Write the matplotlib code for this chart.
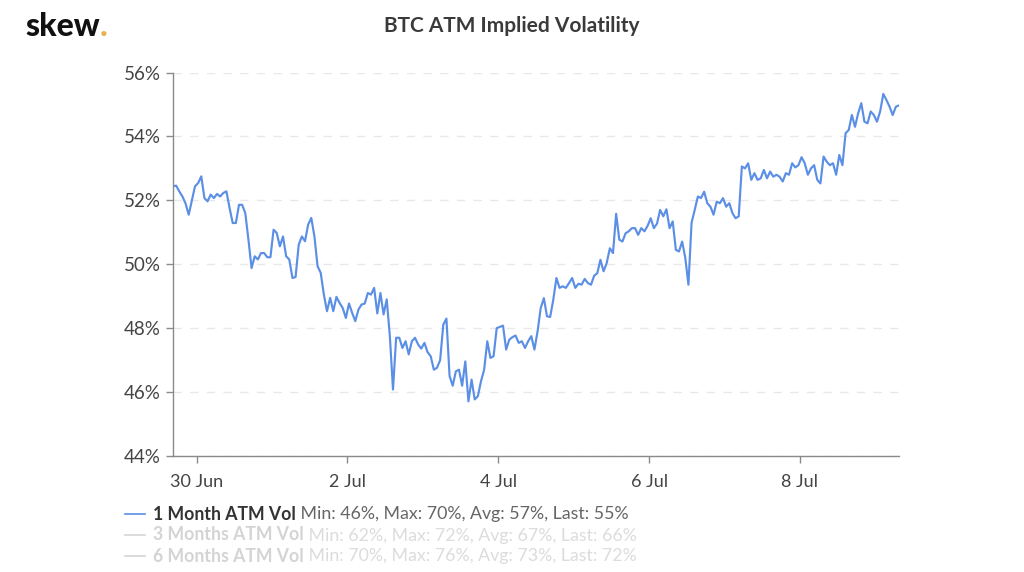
import matplotlib
matplotlib.use("Agg")
import matplotlib.pyplot as plt
from matplotlib.lines import Line2D
import pandas as pd

plt.rcParams['font.family'] = ['Lato', 'DejaVu Sans']

vol_1m = [
52.44,52.46,52.28,52.12,51.9,51.55,52.0,52.44,52.54,52.75,52.07,51.97,52.18,52.07,52.2,52.12,52.23,52.28,51.76,51.29,
51.29,51.86,51.86,51.6,50.77,49.88,50.25,50.15,50.35,50.35,50.22,50.22,51.08,50.98,50.56,50.87,50.25,50.15,49.57,49.6,
50.61,50.87,50.72,51.24,51.45,50.87,49.94,49.73,49.05,48.53,48.95,48.53,48.98,48.79,48.63,48.32,48.77,48.48,48.22,48.58,
48.74,48.77,49.1,49.05,49.26,48.46,49.1,48.43,48.9,47.75,46.08,47.7,47.7,47.38,47.59,47.18,47.59,47.7,47.49,47.36,
47.54,47.25,47.12,46.7,46.76,47.0,48.11,48.3,46.5,46.2,46.65,46.7,46.2,46.96,45.71,46.39,45.77,45.87,46.34,46.7,
47.59,47.07,47.12,48.0,48.04,48.08,47.33,47.64,47.72,47.77,47.54,47.59,47.38,47.59,47.75,47.33,47.9,48.63,48.94,48.37,
48.35,48.89,49.57,49.26,49.31,49.26,49.41,49.57,49.26,49.39,49.36,49.54,49.41,49.36,49.64,49.72,50.14,49.78,50.04,50.5,
50.35,51.58,50.77,50.71,50.97,51.03,51.13,51.13,50.92,51.13,51.03,51.2,51.44,51.13,51.27,51.7,51.5,51.72,51.13,51.34,
50.45,50.4,50.71,50.2,49.36,51.3,51.7,52.12,52.07,52.27,51.91,51.8,51.55,51.96,51.91,52.07,51.8,51.91,51.6,51.44,
51.5,53.06,53.0,53.16,52.64,52.85,52.64,52.69,52.95,52.69,52.9,52.74,52.8,52.74,52.59,52.85,52.8,53.16,53.03,53.1,
53.35,53.16,52.8,53.0,53.1,52.64,52.53,53.37,53.21,53.1,53.16,52.8,53.42,53.1,54.1,54.2,54.67,54.3,54.72,55.04,
54.46,54.41,54.78,54.67,54.46,54.78,55.33,55.14,54.93,54.67,54.93,54.97]

times = pd.date_range("2019-06-29 16:30", periods=len(vol_1m), freq="h")

y_ticks = [44, 46, 48, 50, 52, 54, 56]
x_ticks = pd.to_datetime(["2019-06-30", "2019-07-02", "2019-07-04", "2019-07-06", "2019-07-08"])
x_labels = ["30 Jun", "2 Jul", "4 Jul", "6 Jul", "8 Jul"]

legend_names = ["1 Month ATM Vol", "3 Months ATM Vol", "6 Months ATM Vol"]
legend_stats = ["Min: 46%, Max: 70%, Avg: 57%, Last: 55%",
                "Min: 62%, Max: 72%, Avg: 67%, Last: 66%",
                "Min: 70%, Max: 76%, Avg: 73%, Last: 72%"]

W, H = 1024, 572
fig = plt.figure(figsize=(W/100, H/100), dpi=100, facecolor="white")
L, R, T, B = 173, 899, 72.5, 456
ax = fig.add_axes([L/W, 1-B/H, (R-L)/W, (B-T)/H])
ax.plot(times, vol_1m, color="#5b8fe6", lw=1.55, solid_joinstyle="round")
ax.set_xlim(times[0], times[-1])
ax.set_ylim(44, 56)
ax.set_yticks(y_ticks)
ax.set_yticklabels([f"{v}%" for v in y_ticks])
ax.set_xticks(x_ticks)
ax.set_xticklabels(x_labels)
ax.tick_params(axis="y", length=5, width=1, color="#8a8a8a", labelsize=13.5, labelcolor="#444444", pad=4)
ax.tick_params(axis="x", length=5, width=1, color="#8a8a8a", labelsize=13, labelcolor="#444444", pad=8)
ax.yaxis.grid(True, color="#e8e8e8", lw=1, dashes=(6, 6))
ax.set_axisbelow(True)
for s in ("top", "right"):
    ax.spines[s].set_visible(False)
for s in ("left", "bottom"):
    ax.spines[s].set_color("#8a8a8a")
    ax.spines[s].set_linewidth(1)

fig.text(511.5/W, 1-26/H, "BTC ATM Implied Volatility", ha="center", va="center",
         fontsize=15, fontweight="bold", color="#3a3a3a")
logo = fig.text(25/W, 1-36.5/H, "skew", ha="left", va="baseline", fontsize=23,
                fontweight="black", color="#111111")
fig.canvas.draw()
ax.annotate(".", xy=(1, 0), xycoords=logo, ha="left", va="bottom",
            fontsize=23, fontweight="black", color="#e8b04e", annotation_clip=False)

rows_y = [514, 535, 556]
for i, (name, stats, y) in enumerate(zip(legend_names, legend_stats, rows_y)):
    active = i == 0
    fig.add_artist(Line2D([125/W, 145/W], [1-y/H, 1-y/H], color="#5b8fe6" if active else "#d4d4d4", lw=1.2))
    t = fig.text(153/W, 1-(y+5.5)/H, name, ha="left", va="baseline", fontsize=12.7, fontweight="bold",
                 color="#333333" if active else "#d4d4d4")
    ax.annotate(" " + stats, xy=(1, 0), xycoords=t, ha="left", va="bottom", fontsize=12.78,
                color="#666666" if active else "#dcdcdc", annotation_clip=False)

fig.savefig("out.png", dpi=100)
